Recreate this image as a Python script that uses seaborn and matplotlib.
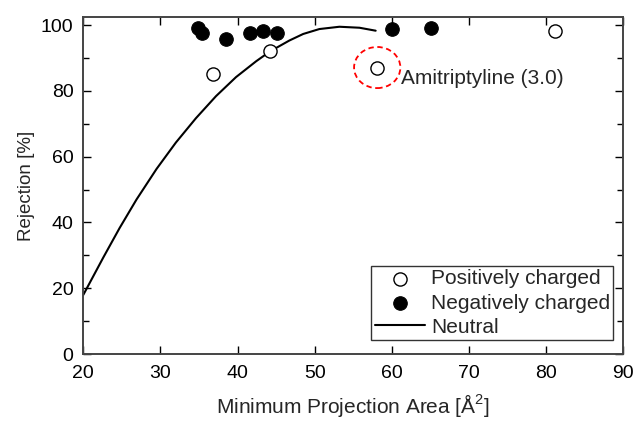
import matplotlib
matplotlib.use("Agg")
import matplotlib.pyplot as plt
from matplotlib.patches import Ellipse
from matplotlib.ticker import MultipleLocator
import seaborn as sns
import pandas as pd

# positively charged compounds (open circles)
pos_area = [36.8, 44.2, 58.1, 81.2]
pos_rej = [85.1, 92.2, 87.1, 98.2]

# negatively charged compounds (filled circles)
neg_area = [34.85, 35.33, 38.44, 41.6, 43.3, 45.1, 59.97, 65.03]
neg_rej = [99.0, 97.5, 95.9, 97.6, 98.1, 97.6, 98.7, 99.0]

# neutral curve
neu_area = [20.0, 22.6, 24.7, 26.9, 29.5, 32.0, 34.6, 37.2, 39.8, 42.4,
            44.2, 46.7, 48.5, 50.6, 53.2, 55.8, 57.9]
neu_rej = [18.0, 29.4, 38.3, 47.0, 56.3, 64.3, 71.7, 78.4, 84.2, 89.0,
           92.0, 95.3, 97.3, 98.8, 99.5, 99.2, 98.3]

pos = pd.DataFrame({"area": pos_area, "rej": pos_rej})
neg = pd.DataFrame({"area": neg_area, "rej": neg_rej})
neu = pd.DataFrame({"area": neu_area, "rej": neu_rej})

sns.set_style("ticks")
plt.rcParams["font.family"] = ["Liberation Sans", "DejaVu Sans"]
plt.rcParams["mathtext.fontset"] = "custom"
plt.rcParams["mathtext.rm"] = "Liberation Sans"

fig = plt.figure(figsize=(6.36, 4.22), dpi=100)
ax = fig.add_axes([0.131, 0.161, 0.849, 0.799])

sns.lineplot(data=neu, x="area", y="rej", color="black", lw=1.5,
             label="Neutral", ax=ax, sort=False, solid_joinstyle="round")
sns.scatterplot(data=neg, x="area", y="rej", color="black", edgecolor="black",
                s=95, label="Negatively charged", ax=ax, zorder=3)
sns.scatterplot(data=pos, x="area", y="rej", facecolor="white", edgecolor="black",
                linewidth=1.0, s=90, label="Positively charged", ax=ax, zorder=3)

# highlight amitriptyline
ax.add_patch(Ellipse((58.1, 87.1), 6.0, 12.5, fill=False, ec="red",
                     ls=(0, (3, 2)), lw=1.3, zorder=4))
ax.text(61.2, 83.8, "Amitriptyline (3.0)", fontsize=15, va="center", ha="left")

ax.set_xlim(20, 90)
ax.set_ylim(0, 102.5)
ax.xaxis.set_major_locator(MultipleLocator(10))
ax.yaxis.set_major_locator(MultipleLocator(20))
ax.yaxis.set_minor_locator(MultipleLocator(10))
ax.tick_params(which="both", direction="in", top=True, right=True,
               labelsize=14, colors="black")
ax.tick_params(axis="x", pad=8)
ax.tick_params(axis="y", pad=7)
ax.tick_params(which="major", length=6, width=1)
ax.tick_params(which="minor", length=4, width=1)
for sp in ax.spines.values():
    sp.set_color("#444444")
    sp.set_linewidth(1.4)

ax.set_xlabel("Minimum Projection Area [Å$^{2}$]", fontsize=15, labelpad=7)
ax.set_ylabel("Rejection [%]", fontsize=13.5, labelpad=4)

h, l = ax.get_legend_handles_labels()
order = [l.index("Positively charged"), l.index("Negatively charged"), l.index("Neutral")]
leg = ax.legend([h[i] for i in order], [l[i] for i in order], loc="lower right",
                bbox_to_anchor=(0.981, 0.042), borderaxespad=0,
                fontsize=15, frameon=True, fancybox=False, edgecolor="black",
                handlelength=2.4, handletextpad=0.3, borderpad=0.15,
                labelspacing=0.25)
leg.get_frame().set_linewidth(1.0)

fig.savefig("out.png", dpi=100)
